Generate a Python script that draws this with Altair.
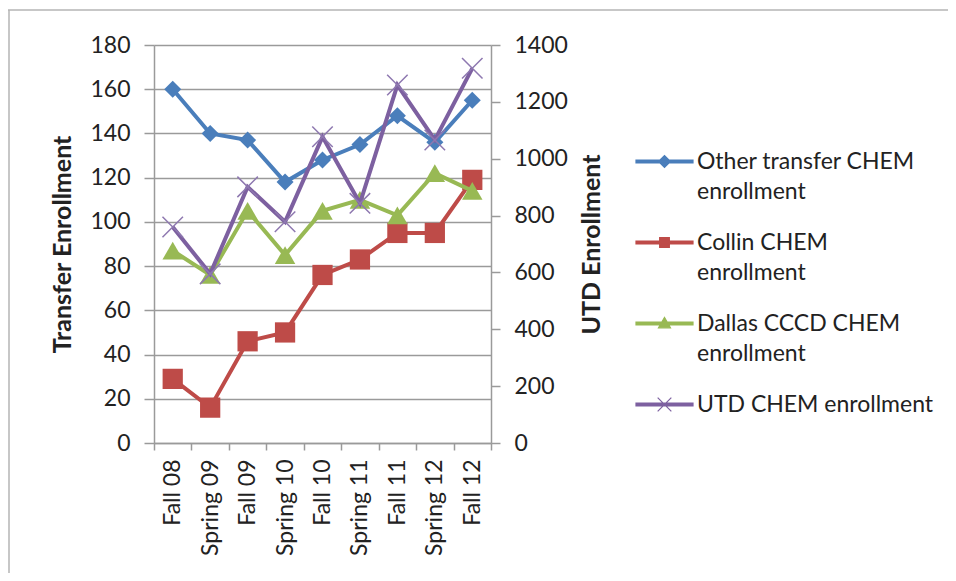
import altair as alt
import pandas as pd

terms = ["Fall 08", "Spring 09", "Fall 09", "Spring 10", "Fall 10",
         "Spring 11", "Fall 11", "Spring 12", "Fall 12"]
other = [160, 140, 137, 118, 128, 135, 148, 136, 155]
collin = [29, 16, 46, 50, 76, 83, 95, 95, 119]
dallas = [87, 76, 105, 85, 105, 110, 103, 122, 114]
utd = [760, 595, 901, 778, 1077, 843, 1259, 1066, 1318]

series_names = ["Other transfer CHEM enrollment", "Collin CHEM enrollment",
                "Dallas CCCD CHEM enrollment", "UTD CHEM enrollment"]
colors = ["#4A7EBB", "#BE4B48", "#98B954", "#7D60A0"]

FONT = "Lato"
TXT = "#222222"
GRID = "#9a9a9a"

left_values = [other, collin, dallas]
left_shapes = ["diamond", "square", "triangle-up"]
left_sizes = [290, 410, 420]

xscale = alt.Scale(type="band", paddingInner=0, paddingOuter=0)
xenc = alt.X("term:N", sort=terms, scale=xscale,
             axis=alt.Axis(title=None, labelAngle=-90, tickBand="extent",
                           tickSize=7, labelPadding=9, labelFontSize=23,
                           labelFont=FONT, labelColor=TXT, domainColor=GRID,
                           tickColor=GRID, domainWidth=1.5, tickWidth=1.5,
                           grid=False))

yleft = alt.Y("value:Q", scale=alt.Scale(domain=[0, 180], nice=False),
              axis=alt.Axis(title="Transfer Enrollment", values=list(range(0, 181, 20)),
                            tickSize=10, labelPadding=14, labelFontSize=23,
                            labelFont=FONT, labelColor=TXT, titleFont=FONT,
                            titleFontSize=25, titleFontWeight="bold", titleColor=TXT,
                            titlePadding=14, grid=True, gridColor=GRID,
                            gridWidth=1.5, domainColor=GRID, domainWidth=1.5,
                            tickColor=GRID, tickWidth=1.5))

left_df = pd.DataFrame({
    "term": terms * 3,
    "series": sum([[n] * len(terms) for n in series_names[:3]], []),
    "value": other + collin + dallas,
})

left_layers = []
for i, name in enumerate(series_names[:3]):
    base = alt.Chart(left_df).transform_filter(alt.datum.series == name)
    line = base.mark_line(color=colors[i], strokeWidth=4).encode(x=xenc, y=yleft)
    pts = base.mark_point(shape=left_shapes[i], filled=True, opacity=1,
                          color=colors[i], size=left_sizes[i]).encode(x=xenc, y=yleft)
    left_layers += [line, pts]

# legend-only layer (no visible data, legend built from the explicit domains)
bar = "M-1,-0.05H1V0.05H-1Z"
legend_paths = [
    bar + "M-0.21,0L0,-0.21L0.21,0L0,0.21Z",
    bar + "M-0.17,-0.17H0.17V0.17H-0.17Z",
    bar + "M-0.21,0.15L0,-0.21L0.21,0.15Z",
    bar + "M-0.24,-0.24L0.24,0.24M-0.24,0.24L0.24,-0.24",
]
legend_df = pd.DataFrame({"series": series_names})
label_expr = ("datum.label == 'UTD CHEM enrollment' ? datum.label : "
              "[slice(datum.label, 0, -11), 'enrollment']")
leg = alt.Legend(title=None, orient="none", legendX=481, legendY=87, padding=0,
                 rowPadding=9, symbolSize=3249, symbolStrokeWidth=1.2,
                 labelFont=FONT, labelFontSize=23, labelColor=TXT, labelLimit=500,
                 labelOffset=3, labelExpr=label_expr)
legend_layer = alt.Chart(legend_df).transform_filter("false").mark_point(
    filled=True, size=3249, opacity=1).encode(
    fill=alt.Fill("series:N", scale=alt.Scale(domain=series_names, range=colors), legend=leg),
    stroke=alt.Stroke("series:N", scale=alt.Scale(domain=series_names, range=colors), legend=leg),
    shape=alt.Shape("series:N", scale=alt.Scale(domain=series_names, range=legend_paths), legend=leg),
)
left_layers.append(legend_layer)

left = alt.layer(*left_layers)

utd_df = pd.DataFrame({"term": terms, "series": series_names[3], "value": utd})
yright = alt.Y("value:Q", scale=alt.Scale(domain=[0, 1400], nice=False),
               axis=alt.Axis(orient="right", title="UTD Enrollment", format="d",
                             values=list(range(0, 1401, 200)), tickSize=9,
                             labelPadding=14, labelFontSize=23, labelFont=FONT,
                             labelColor=TXT, titleFont=FONT, titleFontSize=25,
                             titleFontWeight="bold", titleColor=TXT, titleAngle=-90,
                             titleBaseline="top", titlePadding=12, grid=False,
                             domainColor=GRID, domainWidth=1.5, tickColor=GRID,
                             tickWidth=1.5))
utd_line = alt.Chart(utd_df).mark_line(color=colors[3], strokeWidth=4).encode(
    x=xenc, y=yright)
utd_pts = alt.Chart(utd_df).mark_point(
    shape="M-1,-1L1,1M-1,1L1,-1", filled=False, opacity=1, color="#8E78B0",
    strokeWidth=1.5, size=420).encode(x=xenc, y=yright)
right = alt.layer(utd_line, utd_pts)

# light frame of the original picture (top and left edges)
frame_df = pd.DataFrame({"k": [0]})
frame_top = alt.Chart(frame_df).mark_rule(color="#b4b4b4", strokeWidth=1.5).encode(
    x=alt.value(-146), x2=alt.value(796), y=alt.value(-35))
frame_left = alt.Chart(frame_df).mark_rule(color="#b4b4b4", strokeWidth=1.5).encode(
    x=alt.value(-145), y=alt.value(-35), y2=alt.value(540))

chart = alt.layer(left, right, frame_top, frame_left).resolve_scale(
    y="independent").properties(
    width=337, height=398,
    autosize=alt.AutoSizeParams(type="none"),
    padding={"left": 146, "top": 37, "right": 457, "bottom": 130},
).configure(style={"guide-label": {"lineHeight": 30}}).configure_view(strokeWidth=0)

chart.save("out.html", embed_options={"renderer": "svg", "actions": False})
